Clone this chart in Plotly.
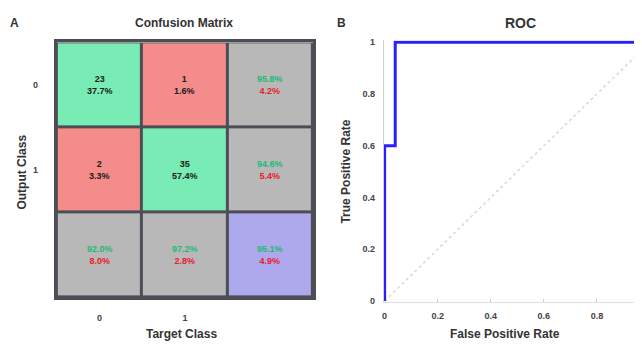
import plotly.graph_objects as go

# ---------------- data ----------------
classes = ["0", "1"]
counts = [[23, 1], [2, 35]]           # rows: output class, cols: target class
total = 61
row_acc = [95.8, 94.6]
col_acc = [92.0, 97.2]
overall_acc = 95.1

roc_fpr = [0, 0, 0.04, 0.04, 1.0]
roc_tpr = [0, 0.6, 0.6, 1.0, 1.0]
chance_x = [0, 1]
chance_y = [0, 1]
roc_ticks = [0, 0.2, 0.4, 0.6, 0.8, 1]
roc_ticktext = ["0", "0.2", "0.4", "0.6", "0.8", "1"]

GREEN = "#78ecb4"
RED = "#f58c8c"
GRAY = "#b8b8b8"
BLUE = "#aea9ec"
TXT_G = "#1fb877"
TXT_R = "#e8202a"
BORDER = "#4d4d55"

OFF = 8  # page body margin
W, H = 642 - OFF, 348 - OFF
def px_x(p): return (p - OFF) / W
def px_y(p): return 1 - (p - OFF) / H

# category codes: 0 green, 1 red, 2 gray, 3 blue
z = [[0, 1, 2], [1, 0, 2], [2, 2, 3]]
cscale = [[0, GREEN], [0.25, GREEN], [0.25, RED], [0.5, RED],
          [0.5, GRAY], [0.75, GRAY], [0.75, BLUE], [1, BLUE]]

fig = go.Figure()
fig.add_trace(go.Heatmap(z=z, x=[0, 1, 2], y=[0, 1, 2], zmin=-0.5, zmax=3.5,
                         colorscale=cscale, showscale=False, xgap=3, ygap=3,
                         hoverinfo="skip", xaxis="x", yaxis="y"))

ann = []
cell_font = dict(family="Liberation Sans, Arial", size=9, color="#1a1a1a")
for i in range(2):
    for j in range(2):
        pct = counts[i][j] / total * 100
        ann.append(dict(x=j, y=i, xref="x", yref="y", showarrow=False,
                        text=f"<b>{counts[i][j]}<br>{pct:.1f}%</b>", font=cell_font))
def two(g):
    return (f"<b><span style='color:{TXT_G}'>{g:.1f}%</span><br>"
            f"<span style='color:{TXT_R}'>{100-g:.1f}%</span></b>")
for i in range(2):
    ann.append(dict(x=2, y=i, xref="x", yref="y", showarrow=False, text=two(row_acc[i]), font=cell_font))
for j in range(2):
    ann.append(dict(x=j, y=2, xref="x", yref="y", showarrow=False, text=two(col_acc[j]), font=cell_font))
ann.append(dict(x=2, y=2, xref="x", yref="y", showarrow=False, text=two(overall_acc), font=cell_font))

# ROC
fig.add_trace(go.Scatter(x=chance_x, y=chance_y, mode="lines",
                         line=dict(color="#d8d8d8", width=1.5, dash="dot"),
                         xaxis="x2", yaxis="y2", hoverinfo="skip"))
fig.add_trace(go.Scatter(x=roc_fpr, y=roc_tpr, mode="lines",
                         line=dict(color="#2a1fff", width=3),
                         xaxis="x2", yaxis="y2", hoverinfo="skip"))

bold = dict(family="Liberation Sans, Arial", size=12, color="#333")
def lab(text, x, y, font=bold, angle=0):
    return dict(text=text, x=px_x(x), y=px_y(y), xref="paper", yref="paper", showarrow=False,
                font=font, textangle=angle, xanchor="center", yanchor="middle")
ann += [
    lab("<b>A</b>", 13, 20),
    lab("<b>Confusion Matrix</b>", 183, 20),
    lab("<b>Target Class</b>", 180, 338),
    lab("<b>Output Class</b>", 20, 172, angle=-90),
    lab("<b>B</b>", 341, 20),
    lab("<b>ROC</b>", 520, 20, font=dict(family="Liberation Sans, Arial", size=14, color="#333")),
    lab("<b>False Positive Rate</b>", 505, 338),
    lab("<b>True Positive Rate</b>", 345, 172, angle=-90),
]

tickfont = dict(family="Liberation Sans, Arial", size=9, color="#444", weight="bold")
fig.update_layout(
    width=W, height=H, margin=dict(l=0, r=0, t=0, b=0),
    paper_bgcolor="white", plot_bgcolor="white", showlegend=False,
    annotations=ann,
    xaxis=dict(domain=[px_x(55), px_x(312)], range=[-0.5, 2.5], tickvals=[0, 1], ticktext=classes,
               showgrid=False, zeroline=False, showline=True, linecolor=BORDER, linewidth=3, mirror=True,
               ticks="", ticklabelstandoff=10, tickfont=tickfont),
    yaxis=dict(domain=[px_y(300), px_y(40)], range=[2.5, -0.5], tickvals=[0, 1], ticktext=classes,
               showgrid=False, zeroline=False, showline=True, linecolor=BORDER, linewidth=3, mirror=True,
               ticks="", ticklabelstandoff=14, tickfont=tickfont),
    xaxis2=dict(domain=[px_x(383), 1.0], range=[-0.003, (642 - 383) / 267], anchor="y2",
                tickvals=roc_ticks, ticktext=roc_ticktext,
                showgrid=False, zeroline=False, showline=True, linecolor="#e0e0e0", linewidth=1,
                ticks="inside", ticklen=3, tickcolor="#cfcfcf", tickfont=tickfont, ticklabelstandoff=5),
    yaxis2=dict(domain=[px_y(305), px_y(38)], range=[-0.003, 1.007], anchor="x2",
                tickvals=roc_ticks, ticktext=roc_ticktext,
                showgrid=False, zeroline=False, showline=True, linecolor="#cfcfcf", linewidth=1,
                ticks="", tickfont=tickfont, ticklabelstandoff=6),
)
fig.add_shape(type="rect", xref="x", yref="y", x0=-0.5, x1=2.5, y0=-0.5, y1=2.5,
              fillcolor=BORDER, line_width=0, layer="below")

fig.write_html("out.html")
